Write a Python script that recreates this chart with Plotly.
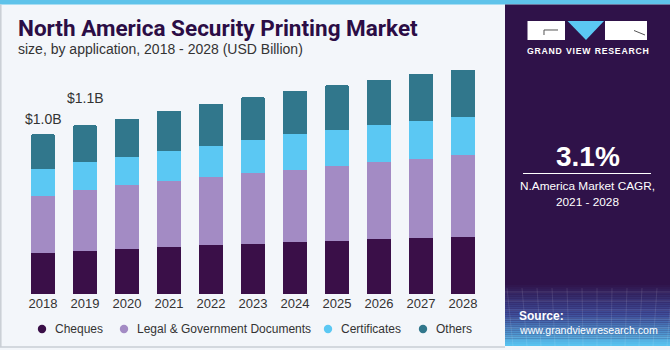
import plotly.graph_objects as go

# ---------------- data ----------------
years = ["2018", "2019", "2020", "2021", "2022", "2023", "2024", "2025", "2026", "2027", "2028"]
cheques = [0.263, 0.277, 0.288, 0.301, 0.314, 0.323, 0.334, 0.342, 0.353, 0.359, 0.368]
legal_gov_docs = [0.370, 0.394, 0.413, 0.428, 0.443, 0.456, 0.466, 0.484, 0.499, 0.514, 0.529]
certificates = [0.174, 0.181, 0.185, 0.194, 0.200, 0.215, 0.230, 0.234, 0.237, 0.241, 0.245]
others = [0.224, 0.236, 0.245, 0.258, 0.269, 0.275, 0.281, 0.286, 0.294, 0.305, 0.303]
series_names = ["Cheques", "Legal & Government Documents", "Certificates", "Others"]
total_label_years = ["2018", "2019"]
total_label_texts = ["$1.0B", "$1.1B"]
cagr_text = "3.1%"
cagr_caption = ["N.America Market CAGR,", "2021 - 2028"]

# ---------------- style ----------------
W, H = 670, 350
series_values = [cheques, legal_gov_docs, certificates, others]
series_colors = ["#3a0f48", "#a38bc4", "#5bc8f3", "#31778c"]
panel_color = "#2f1249"
bg_color = "#f3f6fa"
txt_font = "Liberation Sans"


def px(x):
    return x / W


def py(y):
    return 1 - y / H


fig = go.Figure()
for name, vals, col in zip(series_names, series_values, series_colors):
    fig.add_trace(go.Bar(x=years, y=vals, name=name, marker_color=col,
                         marker_line_width=0, showlegend=False))

totals = [sum(v) for v in zip(*series_values)]

shapes = []
annotations = []

# top stripe
shapes.append(dict(type="rect", xref="paper", yref="paper", x0=0, x1=1, y0=py(4.5), y1=1,
                   fillcolor="#5fc3ea", line_width=0, layer="below"))
# left area border
shapes.append(dict(type="line", xref="paper", yref="paper", x0=px(0.8), x1=px(0.8), y0=py(347), y1=py(4.5),
                   line=dict(color="#c9ced4", width=1.5)))
shapes.append(dict(type="line", xref="paper", yref="paper", x0=0, x1=px(505), y0=py(347), y1=py(347),
                   line=dict(color="#c9ced4", width=1.5)))

# right panel
PX0, PX1 = 505, 670
shapes.append(dict(type="rect", xref="paper", yref="paper", x0=px(PX0), x1=px(PX1), y0=py(346), y1=py(4.5),
                   fillcolor=panel_color, line_width=0))


# gradient at bottom of panel
def lerp(c1, c2, t):
    a = [int(c1[i:i + 2], 16) for i in (1, 3, 5)]
    b = [int(c2[i:i + 2], 16) for i in (1, 3, 5)]
    return "rgb(%d,%d,%d)" % tuple(round(a[k] + (b[k] - a[k]) * t) for k in range(3))


g0, g1 = 283, 346
n = 32
stops = ["#2f1249", "#3f4f9c", "#58c2ef"]
for i in range(n):
    t = i / (n - 1)
    if t < 0.5:
        c = lerp(stops[0], stops[1], t / 0.5)
    else:
        c = lerp(stops[1], stops[2], (t - 0.5) / 0.5)
    ya = g0 + (g1 - g0) * i / n
    yb = g0 + (g1 - g0) * (i + 1) / n
    shapes.append(dict(type="rect", xref="paper", yref="paper", x0=px(PX0), x1=px(PX1),
                       y0=py(yb), y1=py(ya), fillcolor=c, line_width=0))
# faint grid on gradient
for k in range(6):
    yy = 292 + k * 9
    shapes.append(dict(type="line", xref="paper", yref="paper", x0=px(PX0), x1=px(PX1), y0=py(yy), y1=py(yy),
                       line=dict(color="rgba(255,255,255,0.12)", width=1)))
for k in range(12):
    xx = PX0 + 8 + k * 14
    shapes.append(dict(type="line", xref="paper", yref="paper", x0=px(xx), x1=px(xx - 6 + k), y0=py(346), y1=py(288),
                       line=dict(color="rgba(255,255,255,0.10)", width=1)))

# logo
shapes.append(dict(type="rect", xref="paper", yref="paper", x0=px(527.5), x1=px(565), y0=py(40), y1=py(21),
                   fillcolor="white", line_width=0))
shapes.append(dict(type="rect", xref="paper", yref="paper", x0=px(605), x1=px(647), y0=py(40), y1=py(21),
                   fillcolor="white", line_width=0))
shapes.append(dict(type="path", xref="paper", yref="paper",
                   path="M %f %f L %f %f L %f %f Z" % (px(567.5), py(21), px(604), py(21), px(586), py(40)),
                   fillcolor="#5bc8f3", line_width=0))
shapes.append(dict(type="path", xref="paper", yref="paper",
                   path="M %f %f L %f %f L %f %f" % (px(558), py(30), px(544), py(30), px(544), py(35)),
                   line=dict(color="#555", width=1)))
shapes.append(dict(type="line", xref="paper", yref="paper", x0=px(634), x1=px(645), y0=py(30.5), y1=py(35),
                   line=dict(color="#555", width=1)))
annotations.append(dict(text="<b>G R A N D   V I E W   R E S E A R C H</b>".replace("   ", "\u2002").replace(" ", "\u200a"),
                        x=px(587.5), y=py(51.5), xref="paper", yref="paper",
                        xanchor="center", yanchor="middle", showarrow=False,
                        font=dict(family=txt_font, size=8.7, color="white")))

# CAGR
annotations.append(dict(text="<b>%s</b>" % cagr_text, x=px(587.5), y=py(156.5), xref="paper", yref="paper",
                        xanchor="center", yanchor="middle", showarrow=False,
                        font=dict(family=txt_font, size=28, color="white")))
shapes.append(dict(type="line", xref="paper", yref="paper", x0=px(523), x1=px(651), y0=py(173.5), y1=py(173.5),
                   line=dict(color="white", width=1)))
for i, line in enumerate(cagr_caption):
    annotations.append(dict(text=line, x=px(587.5), y=py(185.5 + 16.5 * i), xref="paper", yref="paper",
                            xanchor="center", yanchor="middle", showarrow=False,
                            font=dict(family=txt_font, size=11.8, color="white")))

# source
annotations.append(dict(text="<b>Source:</b>", x=px(517), y=py(315.5), xref="paper", yref="paper",
                        xanchor="left", yanchor="middle", showarrow=False,
                        font=dict(family=txt_font, size=12, color="white")))
annotations.append(dict(text="www.grandviewresearch.com", x=px(517), y=py(329.5), xref="paper", yref="paper",
                        xanchor="left", yanchor="middle", showarrow=False,
                        font=dict(family=txt_font, size=10.6, color="white")))

# title
annotations.append(dict(text="<b>North America Security Printing Market</b>", x=px(16), y=py(28.5), xref="paper",
                        yref="paper", xanchor="left", yanchor="middle", showarrow=False,
                        font=dict(family="Roboto", size=22.5, color="#2b0d45", weight=900)))
annotations.append(dict(text="size, by application, 2018 - 2028 (USD Billion)", x=px(16), y=py(48.5), xref="paper",
                        yref="paper", xanchor="left", yanchor="middle", showarrow=False,
                        font=dict(family=txt_font, size=14, color="#333333")))

# total labels (x given as category index)
label_shift = [15, 27]
for yr, txt, sh in zip(total_label_years, total_label_texts, label_shift):
    idx = years.index(yr)
    annotations.append(dict(text=txt, x=idx, y=totals[idx], xref="x", yref="y",
                            xanchor="center", yanchor="middle", yshift=sh, showarrow=False,
                            font=dict(family=txt_font, size=14, color="#333333")))

# legend (manual, circle markers)
legend_x = [42, 124, 328, 423]
for name, col, lx in zip(series_names, series_colors, legend_x):
    shapes.append(dict(type="circle", xref="paper", yref="paper", x0=px(lx - 4.2), x1=px(lx + 4.2),
                       y0=py(329 + 4.2), y1=py(329 - 4.2), fillcolor=col, line_width=0))
    annotations.append(dict(text=name, x=px(lx + 10.5), y=py(329), xref="paper", yref="paper",
                            xanchor="left", yanchor="middle", showarrow=False,
                            font=dict(family=txt_font, size=12, color="#333333")))

fig.update_layout(
    width=W, height=H,
    margin=dict(l=0, r=0, t=0, b=0, autoexpand=False),
    paper_bgcolor=bg_color, plot_bgcolor="rgba(0,0,0,0)",
    barmode="stack", bargap=0.42, barcornerradius=2,
    showlegend=False,
    xaxis=dict(type="category", domain=[22 / W, 484 / W], range=[-0.5, len(years) - 0.5],
               tickfont=dict(family=txt_font, size=13, color="#333333"),
               showgrid=False, zeroline=False, showline=False, ticks=""),
    yaxis=dict(domain=[(H - 294) / H, (H - 60) / H], range=[0, 1.5097], visible=False),
    shapes=shapes, annotations=annotations,
)

fig.write_html("out.html")
